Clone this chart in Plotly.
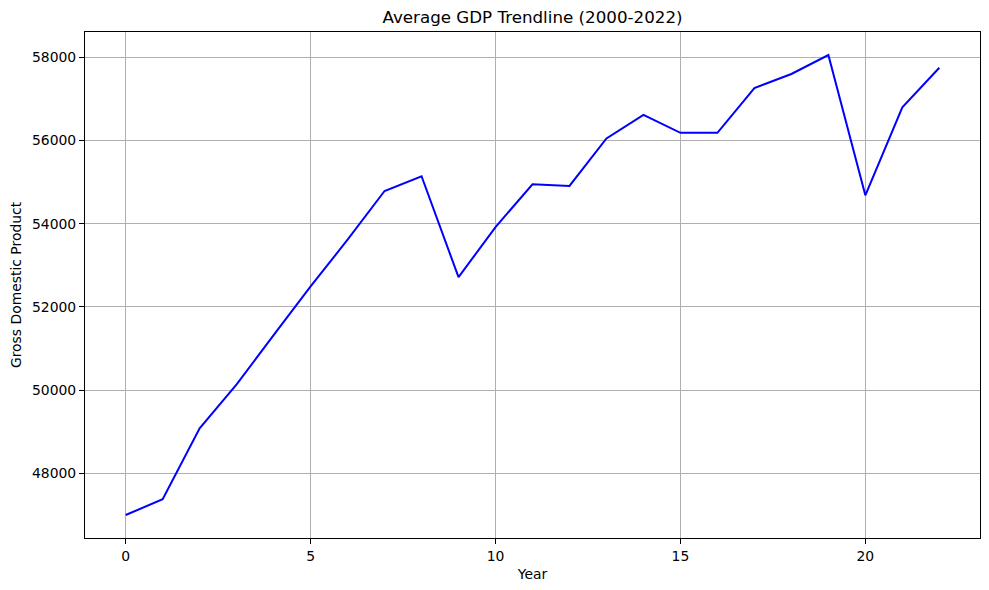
import plotly.graph_objects as go

years = list(range(23))
gdp = [46995, 47373, 49077, 50137, 51320, 52490, 53614, 54786, 55140, 52713,
       53918, 54947, 54906, 56048, 56617, 56183, 56183, 57260, 57598, 58055,
       54682, 56795, 57749]
x_ticks = [0, 5, 10, 15, 20]
y_ticks = [48000, 50000, 52000, 54000, 56000, 58000]

FONT = "DejaVu Sans"
# page body has an 8px margin; shrink the figure so the plot lands where the reference has it
W, H = 981, 582

fig = go.Figure()
fig.add_trace(go.Scatter(x=years, y=gdp, mode="lines",
                         line=dict(color="#0000ff", width=2), showlegend=False))

axis_common = dict(
    showgrid=True, gridcolor="#b0b0b0", gridwidth=1,
    showline=True, linecolor="black", linewidth=1, mirror=True,
    ticks="outside", ticklen=5, tickcolor="black", tickwidth=1,
    zeroline=False, automargin=False,
    tickfont=dict(family=FONT, size=13.9, color="black"),
)

fig.update_layout(
    width=W, height=H,
    margin=dict(l=77, r=9, t=24, b=52),
    paper_bgcolor="white", plot_bgcolor="white",
    font=dict(family=FONT, color="black"),
    title=dict(text="Average GDP Trendline (2000-2022)", x=0.5 + (77 - 9) / 2 / W, xanchor="center",
               y=1 - 9 / H, yanchor="middle", font=dict(family=FONT, size=16.7, color="black")),
    xaxis=dict(range=[-1.1, 23.1], tickvals=x_ticks, ticktext=[str(v) for v in x_ticks],
               title=dict(text="Year", font=dict(family=FONT, size=13.9), standoff=6),
               **axis_common),
    yaxis=dict(range=[46442, 58608], tickvals=y_ticks, ticktext=[str(v) for v in y_ticks],
               title=dict(text="Gross Domestic Product", font=dict(family=FONT, size=13.9), standoff=10),
               **axis_common),
)

fig.write_html("out.html")
